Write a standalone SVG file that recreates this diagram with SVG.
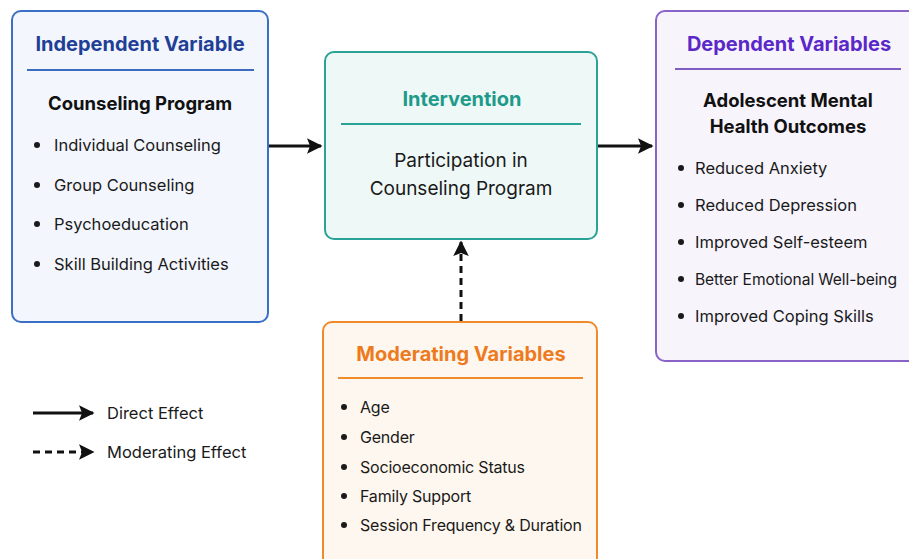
<svg xmlns="http://www.w3.org/2000/svg" width="909" height="559" viewBox="0 0 909 559">
  <defs>
    <marker id="head" viewBox="0 0 10 10" refX="9" refY="5" markerWidth="5.2" markerHeight="5.2" orient="auto" markerUnits="strokeWidth">
      <path d="M0,0 L10,5 L0,10 L2,5 Z" fill="#111"/>
    </marker>
  </defs>
  <style>
    text { font-family: Inter, "Noto Sans", "Liberation Sans", sans-serif; fill: #1a1a1a; }
    .title { font-size: 20px; font-weight: 700; text-anchor: middle; }
    .sub { font-size: 18.5px; font-weight: 700; text-anchor: middle; fill: #111; }
    .item { font-size: 16.5px; }
    .mod { font-size: 16px; letter-spacing: -0.2px; }
    .tight { font-size: 15.6px; letter-spacing: -0.1px; }
    .body { font-size: 19px; text-anchor: middle; }
    .dot { fill: #1a1a1a; }
    .conn { stroke: #111; stroke-width: 3; fill: none; marker-end: url(#head); }
    .dash { stroke-dasharray: 7 5; }
  </style>
  <rect width="909" height="559" fill="#ffffff"/>

  <!-- Independent variable -->
  <g id="independent">
    <rect x="12" y="11" width="256" height="311" rx="9" fill="#f3f6fc" stroke="#3a6fc6" stroke-width="2"/>
    <text class="title" x="140" y="51" style="fill:#1f3f96">Independent Variable</text>
    <line x1="27" y1="70" x2="254" y2="70" stroke="#3b6cc4" stroke-width="2"/>
    <text class="sub" x="140" y="110">Counseling Program</text>
    <circle class="dot" cx="37" cy="145" r="3"/>
    <text class="item" x="54" y="151">Individual Counseling</text>
    <circle class="dot" cx="37" cy="185" r="3"/>
    <text class="item" x="54" y="191">Group Counseling</text>
    <circle class="dot" cx="37" cy="224" r="3"/>
    <text class="item" x="54" y="230">Psychoeducation</text>
    <circle class="dot" cx="37" cy="264" r="3"/>
    <text class="item" x="54" y="270">Skill Building Activities</text>
  </g>

  <!-- Intervention -->
  <g id="intervention">
    <rect x="325" y="52" width="272" height="187" rx="9" fill="#eef8f7" stroke="#2aa295" stroke-width="2"/>
    <text class="title" x="462" y="106" style="fill:#1e9a8a">Intervention</text>
    <line x1="341" y1="124" x2="581" y2="124" stroke="#2aa295" stroke-width="2"/>
    <text class="body" x="461" y="167">Participation in</text>
    <text class="body" x="461" y="195">Counseling Program</text>
  </g>

  <!-- Dependent variables -->
  <g id="dependent">
    <rect x="656" y="11" width="270" height="350" rx="9" fill="#f7f4fc" stroke="#8a63c9" stroke-width="2"/>
    <text class="title" x="789" y="51" style="fill:#5b28c8">Dependent Variables</text>
    <line x1="675" y1="69" x2="901" y2="69" stroke="#7e5cc2" stroke-width="2"/>
    <text class="sub" x="788" y="107">Adolescent Mental</text>
    <text class="sub" x="788" y="133">Health Outcomes</text>
    <circle class="dot" cx="681" cy="168" r="3"/>
    <text class="item" x="695" y="174">Reduced Anxiety</text>
    <circle class="dot" cx="681" cy="205" r="3"/>
    <text class="item" x="695" y="211">Reduced Depression</text>
    <circle class="dot" cx="681" cy="242" r="3"/>
    <text class="item" x="695" y="248">Improved Self-esteem</text>
    <circle class="dot" cx="681" cy="279" r="3"/>
    <text class="item tight" x="695" y="285">Better Emotional Well-being</text>
    <circle class="dot" cx="681" cy="316" r="3"/>
    <text class="item" x="695" y="322">Improved Coping Skills</text>
  </g>

  <!-- Moderating variables -->
  <g id="moderating">
    <rect x="323" y="322" width="274" height="260" rx="9" fill="#fef7ef" stroke="#f08a2b" stroke-width="2"/>
    <text class="title" x="461" y="361" style="fill:#ee7a1e">Moderating Variables</text>
    <line x1="338" y1="378" x2="583" y2="378" stroke="#f08a2b" stroke-width="2"/>
    <circle class="dot" cx="344" cy="407" r="3"/>
    <text class="item mod" x="360" y="413">Age</text>
    <circle class="dot" cx="344" cy="437" r="3"/>
    <text class="item mod" x="360" y="443">Gender</text>
    <circle class="dot" cx="344" cy="467" r="3"/>
    <text class="item mod" x="360" y="473">Socioeconomic Status</text>
    <circle class="dot" cx="344" cy="496" r="3"/>
    <text class="item mod" x="360" y="502">Family Support</text>
    <circle class="dot" cx="344" cy="525" r="3"/>
    <text class="item mod" x="360" y="531">Session Frequency &amp; Duration</text>
  </g>

  <!-- Connectors -->
  <g id="connectors">
    <line class="conn" x1="269" y1="146" x2="321" y2="146"/>
    <line class="conn" x1="598" y1="146" x2="652" y2="146"/>
    <line class="conn dash" x1="461" y1="321" x2="461" y2="242"/>
  </g>

  <!-- Legend -->
  <g id="legend">
    <line class="conn" x1="33" y1="413" x2="93" y2="413"/>
    <text class="item" x="107" y="419">Direct Effect</text>
    <line class="conn dash" x1="33" y1="452" x2="93" y2="452"/>
    <text class="item" x="107" y="458">Moderating Effect</text>
  </g>
</svg>
